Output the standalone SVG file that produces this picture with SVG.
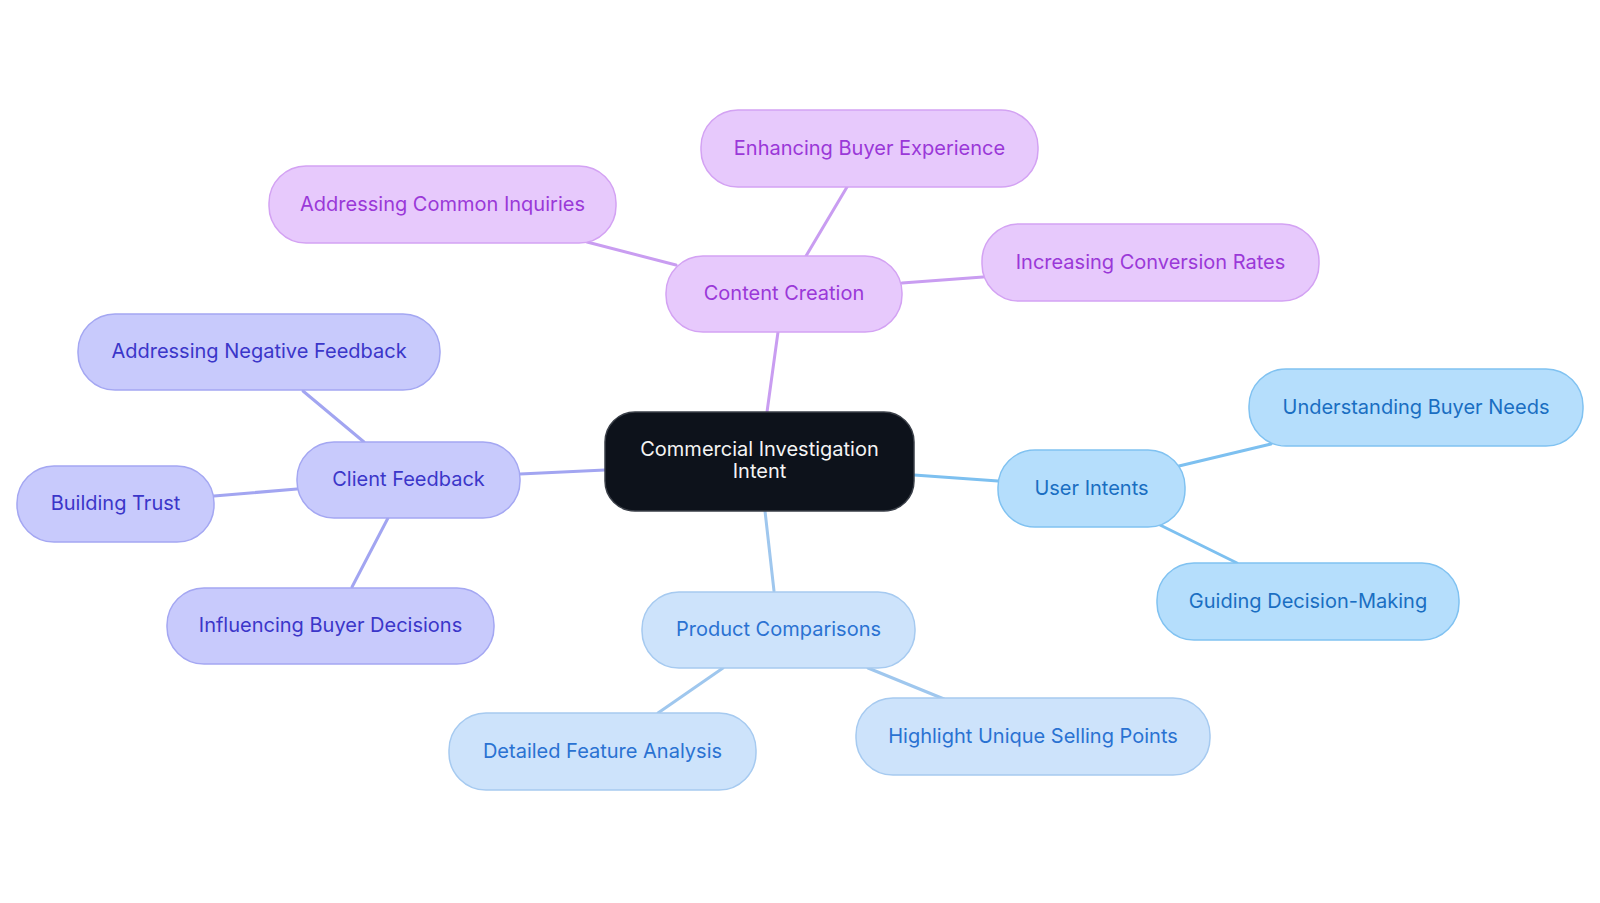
<svg xmlns="http://www.w3.org/2000/svg" width="1600" height="903" viewBox="0 0 1600 903">
<style>
text{font-family:Inter,"Noto Sans","Liberation Sans",sans-serif;font-size:20px;text-anchor:middle;dominant-baseline:central}
.e{fill:none;stroke-width:3;stroke-linecap:round}
.ep{stroke:#C99DF1}.eb{stroke:#7DC0F0}.el{stroke:#A2A5F1}.ec{stroke:#9FC7EE}
.np rect{fill:#E7C9FC;stroke:#D3A2F3;stroke-width:1.5}.np text{fill:#9A38D8}
.nb rect{fill:#B5DEFC;stroke:#80C2F1;stroke-width:1.5}.nb text{fill:#1A6EC2}
.nl rect{fill:#C8CAFC;stroke:#A4A7F2;stroke-width:1.5}.nl text{fill:#3B36C9}
.nc rect{fill:#CDE3FB;stroke:#A6CAF0;stroke-width:1.5}.nc text{fill:#2A72D2}
</style>
<rect width="1600" height="903" fill="#FFFFFF"/>
<g id="connectors">
<line class="e ep" x1="767" y1="412" x2="778" y2="332"/>
<line class="e ep" x1="806" y1="256" x2="847" y2="187"/>
<line class="e ep" x1="676" y1="265" x2="587" y2="242"/>
<line class="e ep" x1="902" y1="283" x2="983" y2="277"/>
<line class="e eb" x1="914" y1="475" x2="998" y2="481"/>
<line class="e eb" x1="1179" y1="466" x2="1271" y2="444"/>
<line class="e eb" x1="1160" y1="525" x2="1237" y2="563"/>
<line class="e ec" x1="765" y1="511" x2="774" y2="591"/>
<line class="e ec" x1="723" y1="668" x2="658" y2="713"/>
<line class="e ec" x1="868" y1="668" x2="944" y2="699"/>
<line class="e el" x1="605" y1="470" x2="520" y2="474"/>
<line class="e el" x1="364" y1="442" x2="303" y2="391"/>
<line class="e el" x1="297" y1="489" x2="214" y2="496"/>
<line class="e el" x1="388" y1="518" x2="352" y2="587"/>
</g>
<g id="root">
<rect x="605" y="412" width="309" height="99" rx="30" fill="#0D121B" stroke="#3A3F48" stroke-width="1.5"/>
<text x="759.5" y="449" fill="#F4F4F4">Commercial Investigation</text>
<text x="759.5" y="471" fill="#F4F4F4">Intent</text>
</g>
<g id="content-creation" class="np"><rect x="666" y="256" width="236" height="76" rx="37"/><text x="784" y="293">Content Creation</text></g>
<g id="enhancing-buyer-experience" class="np"><rect x="701" y="110" width="337" height="77" rx="37"/><text x="869.5" y="147.5">Enhancing Buyer Experience</text></g>
<g id="addressing-common-inquiries" class="np"><rect x="269" y="166" width="347" height="77" rx="37"/><text x="442.5" y="203.5">Addressing Common Inquiries</text></g>
<g id="increasing-conversion-rates" class="np"><rect x="982" y="224" width="337" height="77" rx="37"/><text x="1150.5" y="261.5">Increasing Conversion Rates</text></g>
<g id="user-intents" class="nb"><rect x="998" y="450" width="187" height="77" rx="37"/><text x="1091.5" y="487.5">User Intents</text></g>
<g id="understanding-buyer-needs" class="nb"><rect x="1249" y="369" width="334" height="77" rx="37"/><text x="1416" y="406.5">Understanding Buyer Needs</text></g>
<g id="guiding-decision-making" class="nb"><rect x="1157" y="563" width="302" height="77" rx="37"/><text x="1308" y="600.5">Guiding Decision-Making</text></g>
<g id="product-comparisons" class="nc"><rect x="642" y="592" width="273" height="76" rx="37"/><text x="778.5" y="629">Product Comparisons</text></g>
<g id="detailed-feature-analysis" class="nc"><rect x="449" y="713" width="307" height="77" rx="37"/><text x="602.5" y="750.5">Detailed Feature Analysis</text></g>
<g id="highlight-unique-selling-points" class="nc"><rect x="856" y="698" width="354" height="77" rx="37"/><text x="1033" y="735.5">Highlight Unique Selling Points</text></g>
<g id="client-feedback" class="nl"><rect x="297" y="442" width="223" height="76" rx="37"/><text x="408.5" y="479">Client Feedback</text></g>
<g id="addressing-negative-feedback" class="nl"><rect x="78" y="314" width="362" height="76" rx="37"/><text x="259" y="351">Addressing Negative Feedback</text></g>
<g id="building-trust" class="nl"><rect x="17" y="466" width="197" height="76" rx="37"/><text x="115.5" y="503">Building Trust</text></g>
<g id="influencing-buyer-decisions" class="nl"><rect x="167" y="588" width="327" height="76" rx="37"/><text x="330.5" y="625">Influencing Buyer Decisions</text></g>
</svg>
